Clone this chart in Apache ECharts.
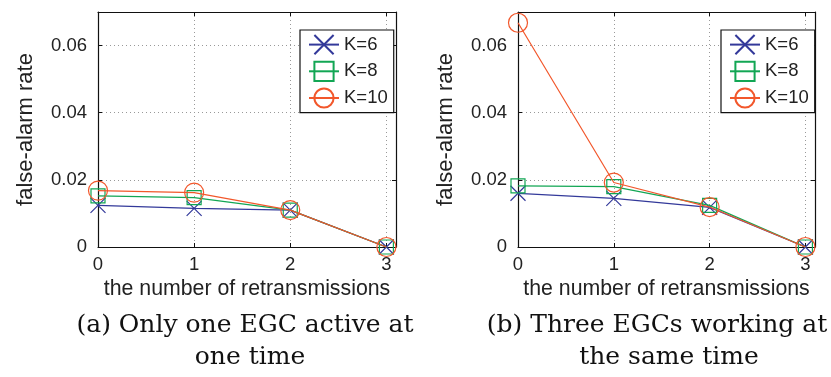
<!DOCTYPE html>
<html>
<head>
<meta charset="utf-8">
<script src="https://cdn.jsdelivr.net/npm/echarts@6/dist/echarts.min.js"></script>
<style>
html,body{margin:0;padding:0;background:#fff;}
#c{width:831px;height:377px;}
</style>
</head>
<body>
<div id="c"></div>
<script>
// ---- data ----
var retransmissions = [0, 1, 2, 3];
var seriesNames = ['K=6', 'K=8', 'K=10'];
// (a) Only one EGC active at one time
var a_K6  = [0.0124, 0.0115, 0.0110, 0];
var a_K8  = [0.0152, 0.0147, 0.0110, 0];
var a_K10 = [0.0168, 0.0162, 0.0110, 0];
// (b) Three EGCs working at the same time
var b_K6  = [0.0160, 0.0145, 0.0118, 0];
var b_K8  = [0.0182, 0.0180, 0.0124, 0];
var b_K10 = [0.0668, 0.0192, 0.0119, 0];
var yTicks = [0, 0.02, 0.04, 0.06];
var xTicks = [0, 1, 2, 3];
var xTitle = 'the number of retransmissions';
var yTitle = 'false-alarm rate';
var captionA = ['(a) Only one EGC active at', 'one time'];
var captionB = ['(b) Three EGCs working at', 'the same time'];

// ---- styling ----
var colors = ['#33399a', '#12a654', '#f2572b'];
var symbols = ['path://M0,0L10,10M10,0L0,10', 'rect', 'circle'];
var symbolSizes = [15, 14, 19];
var SANS = '"Liberation Sans", Arial, Helvetica, sans-serif';
var SERIF = '"DejaVu Serif", serif';

function pairs(arr) { return arr.map(function (v, i) { return [retransmissions[i], v]; }); }

var grids = [
  {left: 98, top: 12, width: 298, height: 235},
  {left: 518, top: 12, width: 297, height: 235}
];

var xAxes = [], yAxes = [], series = [], legends = [];
var xMax = 3.1, yMax = 0.07;
function xFmt(v) { return xTicks.indexOf(v) >= 0 ? String(v) : ''; }
function yFmt(v) {
  for (var i = 0; i < yTicks.length; i++) {
    if (Math.abs(yTicks[i] - v) < 1e-9) return v === 0 ? '0' : v.toFixed(2);
  }
  return '';
}
[0, 1].forEach(function (g) {
  xAxes.push({
    type: 'value', gridIndex: g, min: 0, max: xMax, interval: 1, position: 'bottom',
    name: xTitle, nameLocation: 'middle', nameGap: 32,
    nameTextStyle: {fontFamily: SANS, fontSize: 21.3, color: '#222'},
    axisLine: {show: true, onZero: false, lineStyle: {color: '#111', width: 1.2}},
    axisTick: {show: true, inside: true, length: 4, lineStyle: {color: '#111'}},
    axisLabel: {formatter: xFmt, fontFamily: SANS, fontSize: 18.5, color: '#222', margin: 8, showMaxLabel: false},
    splitLine: {show: true, lineStyle: {color: '#999', type: [1, 3], width: 1}}
  });
  xAxes.push({
    type: 'value', gridIndex: g, min: 0, max: xMax, interval: 1, position: 'top',
    axisLine: {show: true, onZero: false, lineStyle: {color: '#111', width: 1.2}},
    axisTick: {show: true, inside: true, length: 4, lineStyle: {color: '#111'}},
    axisLabel: {show: false}, splitLine: {show: false}
  });
  yAxes.push({
    type: 'value', gridIndex: g, min: 0, max: yMax, interval: 0.02, position: 'left',
    name: yTitle, nameLocation: 'middle', nameGap: 61,
    nameTextStyle: {fontFamily: SANS, fontSize: 22, color: '#222'},
    axisLine: {show: true, onZero: false, lineStyle: {color: '#111', width: 1.2}},
    axisTick: {show: true, inside: true, length: 4, lineStyle: {color: '#111'}},
    axisLabel: {formatter: yFmt, fontFamily: SANS, fontSize: 18.5, color: '#222', margin: 11, showMaxLabel: false},
    splitLine: {show: true, lineStyle: {color: '#999', type: [1, 3], width: 1}}
  });
  yAxes.push({
    type: 'value', gridIndex: g, min: 0, max: yMax, interval: 0.02, position: 'right',
    axisLine: {show: true, onZero: false, lineStyle: {color: '#111', width: 1.2}},
    axisTick: {show: true, inside: true, length: 4, lineStyle: {color: '#111'}},
    axisLabel: {show: false}, splitLine: {show: false}
  });
});

var dataSets = [[a_K6, a_K8, a_K10], [b_K6, b_K8, b_K10]];
dataSets.forEach(function (set, g) {
  set.forEach(function (vals, k) {
    series.push({
      type: 'line', name: seriesNames[k],
      xAxisIndex: g * 2, yAxisIndex: g * 2,
      data: pairs(vals),
      symbol: symbols[k], symbolSize: symbolSizes[k],
      showAllSymbol: true, clip: false,
      color: colors[k],
      lineStyle: {color: colors[k], width: 1.2},
      itemStyle: {color: 'rgba(255,255,255,0)', borderColor: colors[k], borderWidth: 1.2},
      emphasis: {disabled: true},
      z: 3 + k
    });
  });
});

[300, 721].forEach(function (lx) {
  legends.push({
    left: lx, top: 30, orient: 'vertical',
    data: seriesNames, selectedMode: false,
    backgroundColor: '#fff', borderColor: '#111', borderWidth: 1.2,
    padding: [4, 6, 4, 8], itemGap: 5.5, itemWidth: 30, itemHeight: 24,
    textStyle: {fontFamily: SANS, fontSize: 18.5, color: '#222'}
  });
});

function capText(txt, x, y) {
  return {type: 'text', x: x, y: y, style: {text: txt, textAlign: 'center', textVerticalAlign: 'middle',
    font: '25px ' + SERIF, fill: '#111'}};
}

var chart = echarts.init(document.getElementById('c'), null, {renderer: 'canvas'});
chart.setOption({
  animation: false,
  backgroundColor: '#fff',
  grid: grids,
  xAxis: xAxes,
  yAxis: yAxes,
  legend: legends,
  series: series,
  graphic: [
    capText(captionA[0], 245, 325), capText(captionA[1], 250, 357),
    capText(captionB[0], 657, 325), capText(captionB[1], 669, 357)
  ]
});
</script>
</body>
</html>
